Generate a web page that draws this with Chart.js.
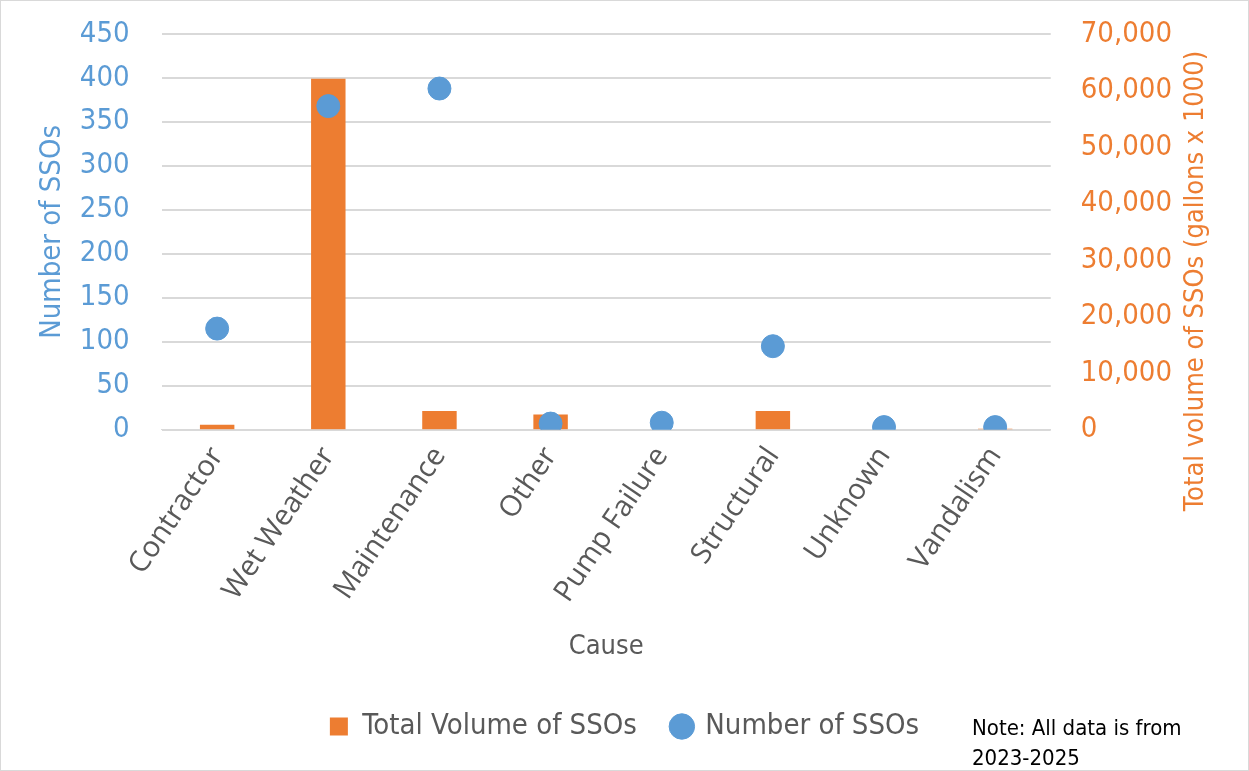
<!DOCTYPE html>
<html>
<head>
<meta charset="utf-8">
<script src="https://cdn.jsdelivr.net/npm/chart.js@4"></script>
<style>
  html, body { margin: 0; padding: 0; background: #fff; }
  #wrap { position: relative; width: 1249px; height: 771px; box-sizing: border-box; border: 1px solid #d9d9d9; }
  #note { position: absolute; left: 971px; top: 712px; font: 22px "DejaVu Sans Condensed", sans-serif; color: #000; line-height: 30px; }
</style>
</head>
<body>
<div id="wrap">
  <canvas id="chart"></canvas>
  <div id="note">Note: All data is from<br>2023-2025</div>
</div>
<script>
// DATA
const causes = ["Contractor", "Wet Weather", "Maintenance", "Other", "Pump Failure", "Structural", "Unknown", "Vandalism"];
const volumeSSO = [900, 62100, 3300, 2700, 0, 3300, 0, 180];   // gallons x 1000
const countSSO = [115, 368, 388, 7, 8, 95, 3, 3];
const leftTicks = [0, 450, 50];
const rightTicks = [0, 70000, 10000];

const narrow = "'DejaVu Sans Condensed', 'Liberation Sans Narrow', sans-serif";
const blue = "#5B9BD5";
const orange = "#ED7D31";
const gray = "#595959";
const rightTitle = "Total volume of SSOs (gallons x 1000)";

// right axis title, drawn lower than the axis centre like the original
const rightTitlePlugin = {
    id: "rightTitle",
    afterDraw(chart) {
        const ctx = chart.ctx;
        ctx.save();
        ctx.translate(1195, 280);
        ctx.rotate(-Math.PI / 2);
        ctx.fillStyle = orange;
        ctx.font = "27px " + narrow;
        ctx.textAlign = "center";
        ctx.textBaseline = "middle";
        ctx.fillText(rightTitle, 0, 0);
        ctx.restore();
    }
};

const canvas = document.getElementById("chart");
canvas.width = 1247;
canvas.height = 769;

new Chart(canvas, {
    data: {
        labels: causes,
        datasets: [{
            type: "bar",
            label: "Total Volume of SSOs",
            data: volumeSSO,
            backgroundColor: orange,
            yAxisID: "y1",
            categoryPercentage: 1,
            barPercentage: 0.31,
            order: 2,
            pointStyle: "rect"
        }, {
            type: "line",
            label: "Number of SSOs",
            data: countSSO,
            showLine: false,
            backgroundColor: blue,
            borderColor: blue,
            pointRadius: 11.5,
            pointHoverRadius: 11.5,
            pointStyle: "circle",
            yAxisID: "y",
            order: 1
        }]
    },
    options: {
        responsive: false,
        animation: false,
        layout: { padding: { left: 0, right: 0, top: 33, bottom: 19 } },
        plugins: {
            tooltip: { enabled: false },
            legend: {
                position: "bottom",
                labels: {
                    usePointStyle: true,
                    boxHeight: 18,
                    boxWidth: 18,
                    padding: 36,
                    color: gray,
                    font: { family: narrow, size: 29 },
                    sort: (a, b) => a.datasetIndex - b.datasetIndex
                }
            }
        },
        scales: {
            x: {
                grid: { display: false },
                border: { color: "#d9d9d9" },
                ticks: {
                    color: gray,
                    font: { family: "'Open Sans', sans-serif", size: 29 },
                    minRotation: 56,
                    maxRotation: 56,
                    padding: 3
                },
                title: {
                    display: true,
                    text: "Cause",
                    color: gray,
                    font: { family: narrow, size: 27 },
                    padding: { top: 19, bottom: 13 }
                }
            },
            y: {
                position: "left",
                min: leftTicks[0],
                max: leftTicks[1],
                ticks: {
                    stepSize: leftTicks[2],
                    color: blue,
                    font: { family: narrow, size: 29 },
                    padding: 4
                },
                grid: { color: "#d9d9d9", lineWidth: 2, drawTicks: true, tickLength: 28, tickColor: "transparent" },
                border: { display: false },
                title: {
                    display: true,
                    text: "Number of SSOs",
                    color: blue,
                    font: { family: narrow, size: 29 },
                    padding: { top: 34, bottom: 6 }
                }
            },
            y1: {
                position: "right",
                min: rightTicks[0],
                max: rightTicks[1],
                ticks: {
                    stepSize: rightTicks[2],
                    color: orange,
                    font: { family: narrow, size: 29 },
                    padding: 4,
                    callback: v => v.toLocaleString("en-US")
                },
                grid: { drawOnChartArea: false, drawTicks: true, tickLength: 26, tickColor: "transparent" },
                border: { display: false },
                afterFit(scale) {
                    scale.width += 72;   // room for the rotated title
                }
            }
        }
    },
    plugins: [rightTitlePlugin]
});
</script>
</body>
</html>
